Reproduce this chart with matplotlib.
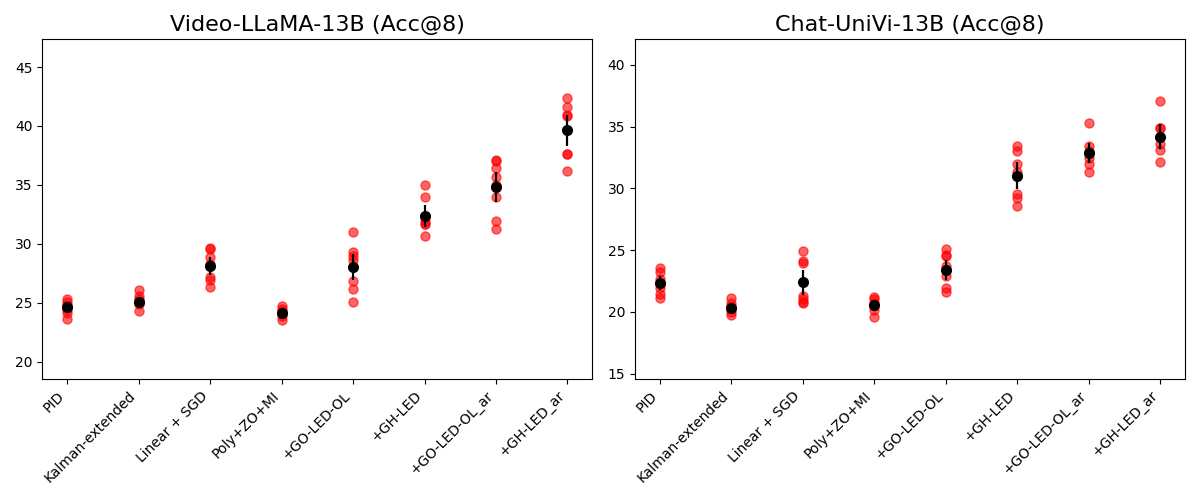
import numpy as np
import matplotlib
matplotlib.use('Agg')
import matplotlib.pyplot as plt

methods = ['PID', 'Kalman-extended', 'Linear + SGD', 'Poly+ZO+MI',
           '+GO-LED-OL', '+GH-LED', '+GO-LED-OL_ar', '+GH-LED_ar']

# Video-LLaMA-13B individual runs
vllama_runs = [
    [25.3, 25.1, 24.85, 24.6, 24.4, 24.15, 23.6],
    [26.05, 25.55, 25.3, 25.0, 24.9, 24.3],
    [29.65, 29.6, 28.85, 28.3, 27.15, 26.9, 26.3],
    [24.75, 24.5, 24.3, 24.15, 23.85, 23.55],
    [31.0, 29.3, 29.0, 28.6, 26.85, 26.2, 25.1],
    [35.0, 34.0, 31.9, 31.7, 31.65, 30.7],
    [37.1, 37.05, 36.4, 35.7, 34.95, 33.95, 31.9, 31.25],
    [42.35, 41.65, 40.9, 40.85, 37.65, 37.6, 36.2],
]
vllama_mean = [24.65, 25.07, 28.12, 24.12, 28.07, 32.34, 34.82, 39.63]
vllama_err = [0.35, 0.3, 0.8, 0.15, 1.1, 0.93, 1.28, 1.31]

# Chat-UniVi-13B individual runs
univi_runs = [
    [23.55, 23.2, 22.65, 22.3, 21.95, 21.45, 21.1],
    [21.1, 20.75, 20.5, 20.35, 20.0, 19.75],
    [24.95, 24.15, 24.0, 21.3, 21.05, 20.8, 20.75],
    [21.2, 21.05, 20.75, 20.5, 20.2, 19.6],
    [25.1, 24.6, 24.5, 23.75, 22.9, 21.95, 21.65],
    [33.4, 33.0, 32.0, 31.35, 29.55, 29.2, 28.55],
    [35.25, 33.4, 33.0, 32.45, 32.0, 31.35],
    [37.05, 34.9, 34.85, 33.55, 33.1, 32.1],
]
univi_mean = [22.34, 20.35, 22.39, 20.57, 23.4, 31.03, 32.88, 34.18]
univi_err = [0.55, 0.15, 1.0, 0.35, 0.8, 1.09, 0.82, 1.0]


def draw_panel(ax, title, runs, means, errs):
    x = np.arange(len(methods))
    for i, vals in enumerate(runs):
        ax.plot([x[i]] * len(vals), vals, 'o', color='red', alpha=0.6,
                markersize=6.5, zorder=2)
    ax.errorbar(x, means, yerr=errs, fmt='o', color='black',
                markersize=7, elinewidth=1.6, zorder=3)
    allv = np.concatenate([np.array(v) for v in runs])
    ax.set_ylim(allv.min() - 5, allv.max() + 5)
    ax.set_xticks(x)
    ax.set_xticklabels(methods, rotation=45, ha='right')
    ax.set_title(title, fontsize=16)


fig, axes = plt.subplots(1, 2, figsize=(12, 5), dpi=100)
draw_panel(axes[0], 'Video-LLaMA-13B (Acc@8)', vllama_runs, vllama_mean, vllama_err)
draw_panel(axes[1], 'Chat-UniVi-13B (Acc@8)', univi_runs, univi_mean, univi_err)
fig.tight_layout()
fig.savefig('out.png')
